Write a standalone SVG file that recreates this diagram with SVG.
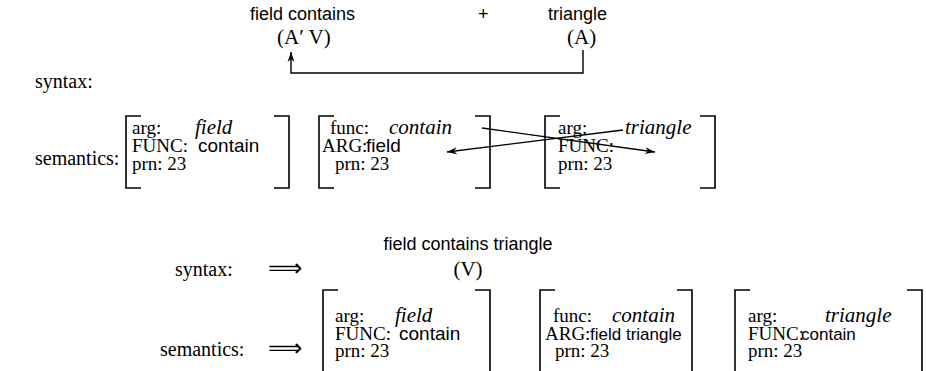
<svg xmlns="http://www.w3.org/2000/svg" width="926" height="371" viewBox="0 0 926 371">
<defs>
<style>
.t{font-family:"Liberation Serif","Times New Roman",serif;font-size:19px;fill:#000}
.lab{font-family:"Liberation Serif","Times New Roman",serif;font-size:20px;fill:#000}
.m{font-family:"Liberation Serif","Times New Roman",serif;font-size:21px;fill:#000}
.i{font-family:"Liberation Serif","Times New Roman",serif;font-style:italic;font-size:21px;fill:#000}
.h{font-family:"Liberation Sans",Arial,sans-serif;font-size:18px;fill:#000}
.hb{font-family:"Liberation Sans",Arial,sans-serif;font-size:19px;fill:#000}
.hs{font-family:"Liberation Sans",Arial,sans-serif;font-size:17px;fill:#000}
.br{fill:none;stroke:#000;stroke-width:1.6}
.ln{fill:none;stroke:#000;stroke-width:1.4}
.arr{font-family:"DejaVu Sans",sans-serif;font-size:24px;fill:#000}
</style>
<marker id="ah" viewBox="0 0 10 10" refX="10" refY="5" markerWidth="10" markerHeight="10" markerUnits="userSpaceOnUse" orient="auto">
<path d="M0,1.5 L10,5 L0,8.5 L3,5 Z" fill="#000"/>
</marker>
</defs>

<g id="labels">
<text class="lab" x="35" y="88">syntax:</text>
<text class="lab" x="35" y="165">semantics:</text>
<text class="lab" x="175" y="276">syntax:</text>
<text class="arr" x="268" y="276">⟹</text>
<text class="lab" x="160" y="356">semantics:</text>
<text class="arr" x="268" y="356">⟹</text>
</g>

<g id="syn-field-contains">
<text class="h" x="250" y="20">field contains</text>
<text class="m" x="277" y="44">(A′ V)</text>
</g>
<g id="plus"><text class="h" x="478" y="20">+</text></g>
<g id="syn-triangle">
<text class="h" x="548" y="20">triangle</text>
<text class="m" x="567" y="44">(A)</text>
</g>

<g id="sem-field">
<path class="br" d="M141,116 H126 V188 H141 M274,116 H289 V188 H274"/>
<text class="t" x="132" y="134">arg:</text><text class="i" x="195" y="134">field</text>
<text class="t" x="132" y="152">FUNC:</text><text class="hb" x="198" y="152">contain</text>
<text class="t" x="132" y="170">prn: 23</text>
</g>

<g id="sem-contain">
<path class="br" d="M334,116 H319 V188 H334 M475,116 H490 V188 H475"/>
<text class="t" x="330" y="134">func:</text><text class="i" x="389" y="134">contain</text>
<text class="t" x="322" y="152">ARG:</text><text class="hb" x="366" y="152">field</text>
<text class="t" x="335" y="170">prn: 23</text>
</g>

<g id="sem-triangle">
<path class="br" d="M560,116 H545 V188 H560 M700,116 H715 V188 H700"/>
<text class="t" x="558" y="134">arg:</text><text class="i" x="625" y="134">triangle</text>
<text class="t" x="558" y="152">FUNC:</text>
<text class="t" x="558" y="170">prn: 23</text>
</g>

<g id="res-syntax">
<text class="h" x="468" y="250" text-anchor="middle">field contains triangle</text>
<text class="m" x="468" y="276" text-anchor="middle">(V)</text>
</g>

<g id="res-field">
<path class="br" d="M338,290 H323 V380 M475,290 H490 V380"/>
<text class="t" x="335" y="322">arg:</text><text class="i" x="395" y="322">field</text>
<text class="t" x="335" y="340">FUNC:</text><text class="hb" x="399" y="340">contain</text>
<text class="t" x="335" y="357">prn: 23</text>
</g>

<g id="res-contain">
<path class="br" d="M555,290 H540 V380 M677,290 H692 V380"/>
<text class="t" x="553" y="322">func:</text><text class="i" x="612" y="322">contain</text>
<text class="t" x="545" y="340">ARG:</text><text class="hs" x="590" y="340">field triangle</text>
<text class="t" x="555" y="357">prn: 23</text>
</g>

<g id="res-triangle">
<path class="br" d="M750,290 H735 V380 M907,290 H922 V380"/>
<text class="t" x="748" y="322">arg:</text><text class="i" x="825" y="322">triangle</text>
<text class="t" x="748" y="340">FUNC:</text><text class="hs" x="801" y="340">contain</text>
<text class="t" x="748" y="357">prn: 23</text>
</g>

<g id="connectors">
<path class="ln" d="M583,50 V73 H291 V52" marker-end="url(#ah)"/>
<path class="ln" d="M482,128 L655,152" marker-end="url(#ah)"/>
<path class="ln" d="M623,130 L447,152" marker-end="url(#ah)"/>
</g>
</svg>
